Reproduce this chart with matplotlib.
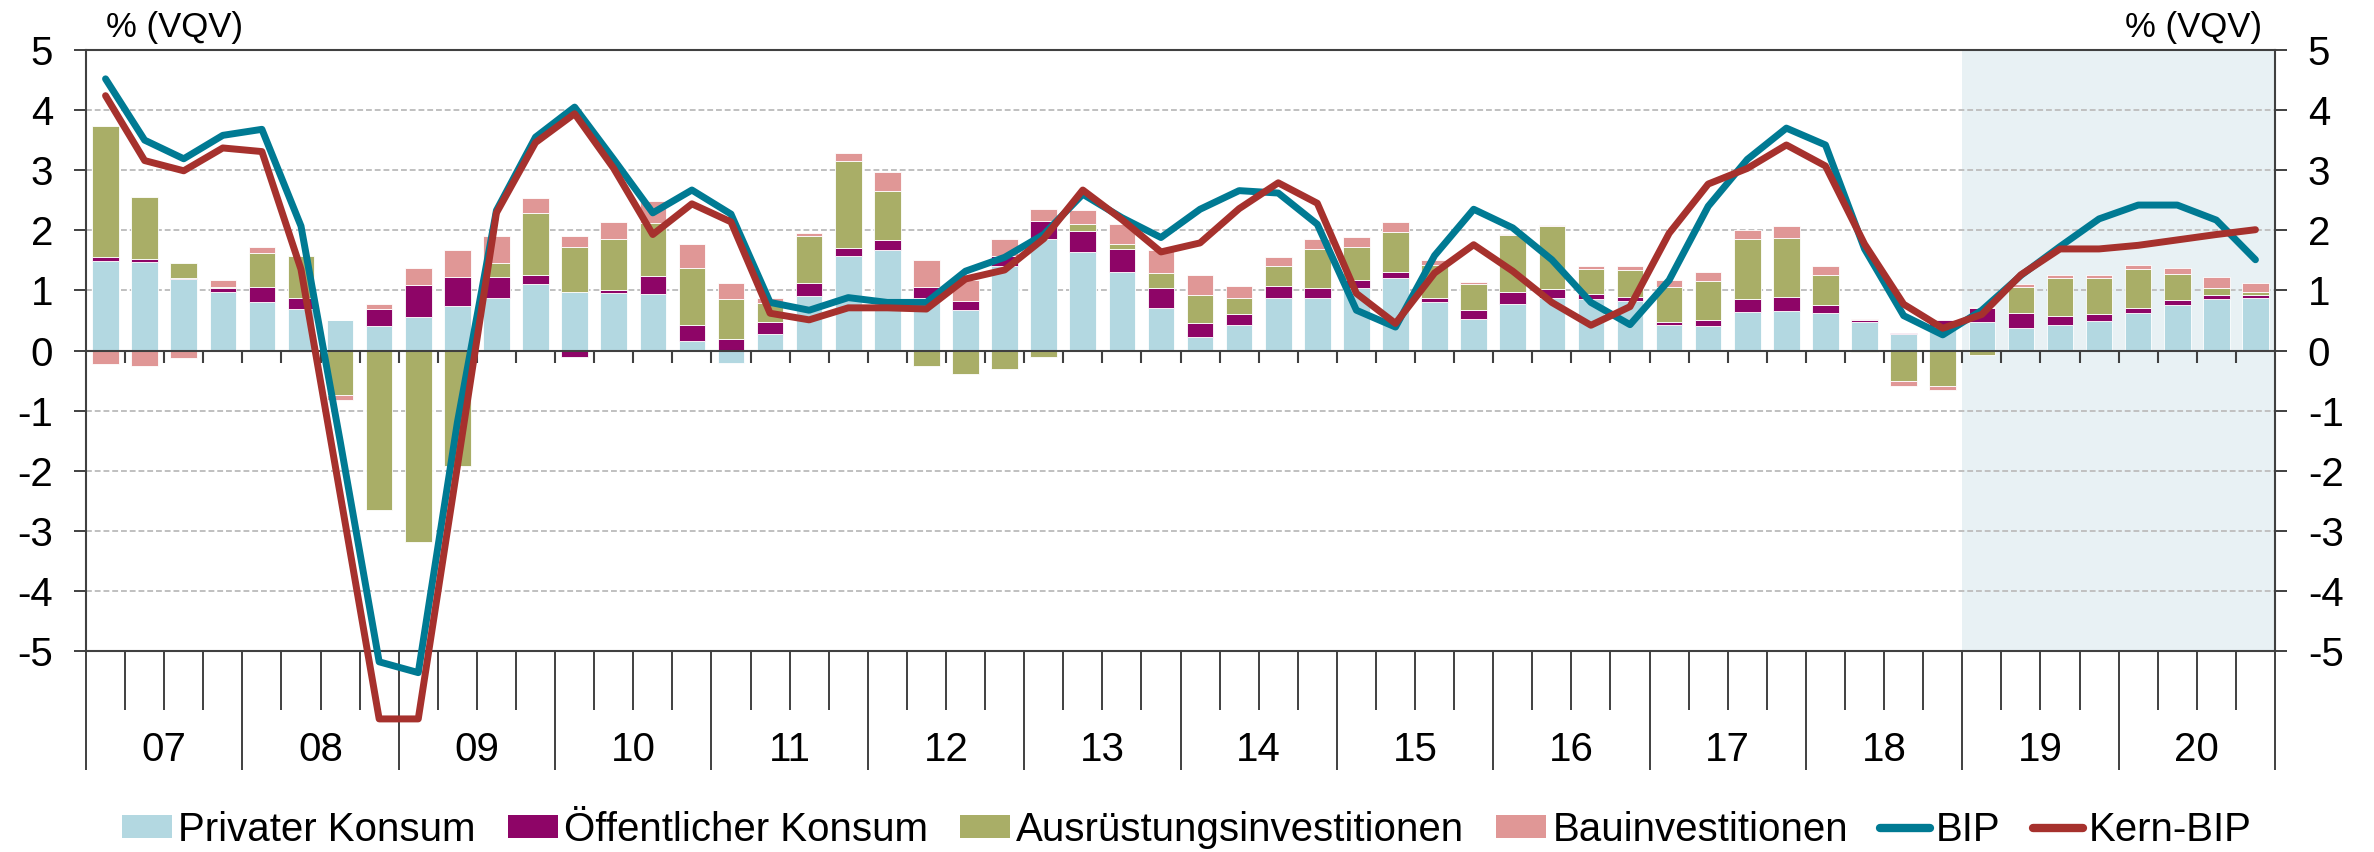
import matplotlib
matplotlib.use("Agg")
import matplotlib.pyplot as plt
import matplotlib.ticker as mticker
from matplotlib.patches import Patch
from matplotlib.lines import Line2D
import numpy as np

plt.rcParams.update({"font.family": ["Liberation Sans", "DejaVu Sans"], "font.size": 29})

# ── Data: quarterly contributions, 2007Q1 .. 2020Q4 ───────────────────────────
years = ["07", "08", "09", "10", "11", "12", "13", "14", "15", "16", "17", "18", "19", "20"]

privat = [1.49, 1.47, 1.19, 0.97, 0.80, 0.69, 0.50, 0.41, 0.56, 0.74,
          0.87, 1.11, 0.97, 0.96, 0.94, 0.16, -0.20, 0.27, 0.91, 1.58,
          1.67, 0.88, 0.67, 1.40, 1.85, 1.64, 1.31, 0.71, 0.22, 0.42,
          0.87, 0.87, 1.04, 1.20, 0.80, 0.53, 0.78, 0.87, 0.85, 0.82,
          0.43, 0.41, 0.64, 0.65, 0.62, 0.48, 0.27, 0.39, 0.47, 0.38,
          0.43, 0.49, 0.63, 0.76, 0.86, 0.88]
oeffentlich = [0.07, 0.05, 0.02, 0.07, 0.25, 0.18, 0.01, 0.28, 0.53, 0.49,
               0.36, 0.14, -0.10, 0.04, 0.30, 0.26, 0.19, 0.20, 0.22, 0.13,
               0.17, 0.18, 0.15, 0.18, 0.30, 0.35, 0.38, 0.33, 0.23, 0.19,
               0.20, 0.17, 0.13, 0.11, 0.07, 0.14, 0.19, 0.16, 0.09, 0.07,
               0.04, 0.10, 0.22, 0.24, 0.14, 0.03, 0.02, 0.12, 0.24, 0.24,
               0.14, 0.11, 0.08, 0.08, 0.07, 0.05]
ausruestung = [2.18, 1.04, 0.24, 0.01, 0.58, 0.71, -0.74, -2.65, -3.19, -1.92,
               0.22, 1.04, 0.75, 0.85, 0.88, 0.95, 0.66, 0.32, 0.78, 1.44,
               0.82, -0.26, -0.39, -0.30, -0.10, 0.11, 0.09, 0.25, 0.48, 0.26,
               0.33, 0.65, 0.55, 0.67, 0.55, 0.43, 0.95, 1.04, 0.42, 0.45,
               0.59, 0.65, 1.00, 0.98, 0.50, -0.03, -0.51, -0.59, -0.07, 0.44,
               0.63, 0.60, 0.65, 0.43, 0.11, 0.04]
bau = [-0.22, -0.25, -0.13, 0.13, 0.09, -0.03, -0.08, 0.09, 0.28, 0.44,
       0.46, 0.24, 0.19, 0.28, 0.37, 0.40, 0.28, 0.09, 0.04, 0.13,
       0.31, 0.45, 0.35, 0.28, 0.20, 0.23, 0.32, 0.39, 0.33, 0.20,
       0.16, 0.17, 0.17, 0.15, 0.09, 0.04, 0.02, 0.02, 0.04, 0.06,
       0.11, 0.15, 0.15, 0.20, 0.14, 0.02, -0.08, -0.06, 0.02, 0.04,
       0.05, 0.05, 0.06, 0.11, 0.18, 0.16]
bip = [4.52, 3.50, 3.19, 3.58, 3.68, 2.07, -1.50, -5.18, -5.36, -1.20,
       2.33, 3.55, 4.05, 3.18, 2.29, 2.67, 2.27, 0.80, 0.67, 0.88,
       0.80, 0.80, 1.32, 1.55, 1.93, 2.60, 2.21, 1.88, 2.35, 2.66,
       2.62, 2.10, 0.67, 0.39, 1.58, 2.35, 2.04, 1.51, 0.80, 0.43,
       1.17, 2.40, 3.18, 3.70, 3.42, 1.69, 0.58, 0.26, 0.67, 1.25,
       1.73, 2.19, 2.42, 2.42, 2.17, 1.51]
kern_bip = [4.24, 3.16, 2.99, 3.37, 3.31, 1.35, -2.38, -6.13, -6.13, -1.93,
            2.29, 3.46, 3.94, 3.03, 1.93, 2.44, 2.14, 0.62, 0.51, 0.71,
            0.71, 0.69, 1.19, 1.34, 1.86, 2.67, 2.18, 1.64, 1.79, 2.36,
            2.79, 2.45, 0.95, 0.45, 1.29, 1.76, 1.32, 0.80, 0.42, 0.73,
            1.95, 2.77, 3.03, 3.42, 3.07, 1.77, 0.77, 0.37, 0.60, 1.26,
            1.69, 1.69, 1.75, 1.84, 1.93, 2.01]
forecast_start = 48  # first forecast quarter: 2019Q1

series = [
    ("Privater Konsum", privat, "#B3D8E1"),
    ("Öffentlicher Konsum", oeffentlich, "#8E0567"),
    ("Ausrüstungsinvestitionen", ausruestung, "#A9AE67"),
    ("Bauinvestitionen", bau, "#E09796"),
]
BIP_C, KERN_C, AXIS_C, GRID_C = "#007A93", "#A6312D", "#404040", "#C0C0C0"

# ── Figure ────────────────────────────────────────────────────────────────────
W, H = 2374, 852
fig = plt.figure(figsize=(W / 100, H / 100), dpi=100)
ax = fig.add_axes([86 / W, 1 - 651 / H, (2275 - 86) / W, (651 - 50) / H])

n = len(privat)
x = np.arange(n)
ax.set_xlim(-0.5, n - 0.5)
ax.set_ylim(-5, 5)

ax.axvspan(forecast_start - 0.5, n - 0.5, color="#E8F1F4", zorder=0, lw=0)

pos_base = np.zeros(n)
neg_base = np.zeros(n)
for label, vals, color in series:
    v = np.array(vals)
    base = np.where(v >= 0, pos_base, neg_base)
    ax.bar(x, v, bottom=base, width=0.68, color=color, edgecolor="white",
           linewidth=0.6, zorder=3, label=label)
    pos_base += np.where(v >= 0, v, 0)
    neg_base += np.where(v < 0, v, 0)

ax.plot(x, bip, color=BIP_C, lw=5, zorder=5, clip_on=False,
        solid_joinstyle="round", solid_capstyle="round")
ax.plot(x, kern_bip, color=KERN_C, lw=5, zorder=6, clip_on=False,
        solid_joinstyle="round", solid_capstyle="round")

# zero line with small quarter ticks
ax.axhline(0, color=AXIS_C, lw=1.5, zorder=4)
bounds = np.arange(1, n) - 0.5
ax.vlines(bounds, -0.2, 0, color=AXIS_C, lw=1.5, zorder=4)

# y axes on both sides
ax.yaxis.set_major_locator(mticker.MultipleLocator(1))
ax.yaxis.set_major_formatter(mticker.FuncFormatter(lambda v, p: f"{v:.0f}"))
ax.tick_params(axis="y", which="major", left=True, right=True, labelleft=True,
               labelright=True, direction="out", length=8.6, width=1.4,
               color=AXIS_C, pad=15, labelsize=29)
ax.grid(axis="y", color=GRID_C, linestyle=(0, (3, 1.5)), lw=1.4, zorder=1)
ax.set_axisbelow(True)

# x axis: quarter and year separators below the plot
ax.xaxis.set_major_locator(mticker.FixedLocator(np.arange(0, n + 1, 4) - 0.5))
ax.xaxis.set_minor_locator(mticker.FixedLocator(np.arange(0, n + 1) - 0.5))
ax.tick_params(axis="x", which="major", direction="out", length=85.7, width=1.4,
               color=AXIS_C, labelbottom=False)
ax.tick_params(axis="x", which="minor", direction="out", length=42.5, width=1.4,
               color=AXIS_C)

for k, yr in enumerate(years):
    ax.annotate(yr, xy=(4 * k + 1.5, 0), xycoords=("data", "axes fraction"),
                xytext=(0, -71), textcoords="offset points",
                ha="center", va="center", fontsize=29)

for s in ax.spines.values():
    s.set_color(AXIS_C)
    s.set_linewidth(1.5)

fig.text(106 / W, 1 - 28 / H, "% (VQV)", ha="left", va="center", fontsize=25)
fig.text(2262 / W, 1 - 28 / H, "% (VQV)", ha="right", va="center", fontsize=25)

handles = [Patch(facecolor=c, edgecolor="none") for _, _, c in series]
handles += [Line2D([], [], color=BIP_C, lw=6, solid_capstyle="round"),
            Line2D([], [], color=KERN_C, lw=6, solid_capstyle="round")]
labels = [s[0] for s in series] + ["BIP", "Kern-BIP"]
fig.legend(handles, labels, loc="center", bbox_to_anchor=(0.5, 1 - 830 / H),
           ncol=6, frameon=False, fontsize=29, handlelength=1.24,
           handleheight=0.5, handletextpad=0.15, columnspacing=0.8,
           borderaxespad=0, borderpad=0)

fig.savefig("out.png", dpi=100)
